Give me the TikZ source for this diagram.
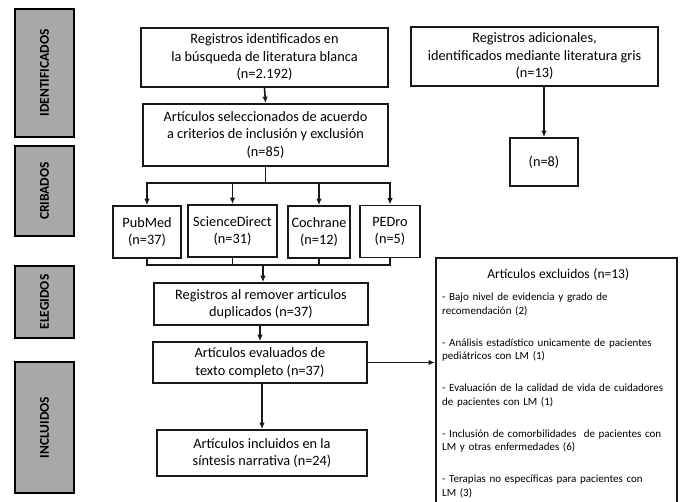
\documentclass[tikz,border=0pt]{standalone}
\usepackage{fontspec}
\setmainfont{Carlito}
\usetikzlibrary{arrows.meta,positioning}
\definecolor{phasegray}{RGB}{168,168,168}
\definecolor{boxline}{RGB}{25,25,25}

\begin{document}
\begin{tikzpicture}[x=1pt,y=-1pt,
  phase/.style={draw=black,fill=phasegray,line width=1.7pt,minimum height=59pt,
    rotate=90,inner sep=0pt,font=\bfseries\fontsize{13.5}{15}\selectfont},
  box/.style={draw=boxline,fill=white,line width=1.7pt,align=center,inner sep=2pt,
    font=\fontsize{14.3}{17.5}\selectfont},
  dbbox/.style={box,minimum height=52pt,inner sep=1pt},
  exctext/.style={anchor=north west,text width=232pt,align=left,inner sep=0pt,
    font=\fontsize{11}{13.5}\selectfont},
  flow/.style={-{Latex[length=6.5pt,width=5.5pt]},line width=1.6pt,boxline},
  link/.style={line width=1.6pt,boxline}]
  \useasboundingbox (0,0) rectangle (680,502);
  % Phases on the left
  \node[phase,minimum width=128pt] (idf) at (44.5,73) {IDENTIFICADOS};
  \node[phase,minimum width=90pt] (crib) at (44.5,191) {CRIBADOS};
  \node[phase,minimum width=72pt] (eleg) at (44.5,302) {ELEGIDOS};
  \node[phase,minimum width=131pt] (incl) at (44.5,427.5) {INCLUIDOS};
  %
  % Identification
  \node[box,minimum width=247pt,minimum height=59pt] (reg) at (264.5,57.5)
    {Registros identificados en\\la búsqueda de literatura blanca\\(n=2.192)};
  \node[box,minimum width=247pt,minimum height=59pt] (adic) at (534.5,56.5)
    {Registros adicionales,\\identificados mediante literatura gris\\(n=13)};
  \node[box,minimum width=68pt,minimum height=48pt] (gris) at (544,162) {(n=8)};
  \node[box,minimum width=245pt,minimum height=62pt] (sel) at (265.5,135)
    {Artículos seleccionados de acuerdo\\a criterios de inclusión y exclusión\\(n=85)};
  %
  % Databases
  \node[dbbox,minimum width=68pt] (pub) at (147,232) {PubMed\\(n=37)};
  \node[dbbox,minimum width=89pt] (sci) at (232.5,231) {ScienceDirect\\(n=31)};
  \node[dbbox,minimum width=62pt] (coch) at (319,232) {Cochrane\\(n=12)};
  \node[dbbox,minimum width=60pt] (ped) at (390,231.5) {PEDro\\(n=5)};
  %
  % Eligibility and inclusion
  \node[box,minimum width=214pt,minimum height=42pt] (dup) at (261,304)
    {Registros al remover artículos\\duplicados (n=37)};
  \node[box,minimum width=214pt,minimum height=41pt] (eval) at (260,362.5)
    {Artículos evaluados de\\texto completo (n=37)};
  \node[box,minimum width=210pt,minimum height=46pt] (inc) at (262,453)
    {Artículos incluidos en la\\síntesis narrativa (n=24)};
  %
  % Excluded articles
  \node[box,anchor=north west,minimum width=241pt,minimum height=262pt] (exc) at (435,257) {};
  \node[exctext] (exclist) at ([xshift=7pt,yshift=-11pt]exc.north west) {%
    {\centering\fontsize{13.5}{16}\selectfont Artículos excluidos (n=13)\par}
    \vspace{9pt}
    - Bajo nivel de evidencia y grado de\\recomendación (2)\par\vspace{18.5pt}
    - Análisis estadístico unicamente de pacientes\\pediátricos con LM (1)\par\vspace{18.5pt}
    - Evaluación de la calidad de vida de cuidadores\\de pacientes con LM (1)\par\vspace{18.5pt}
    - Inclusión de comorbilidades~ de pacientes con\\LM y otras enfermedades (6)\par\vspace{18.5pt}
    - Terapias no específicas para pacientes con\\LM (3)};
  %
  % Connectors
  \draw[flow] (reg.south) -- (sel.north);
  \draw[flow] (adic.south -| gris.north) -- (gris.north);
  \coordinate (split) at (265.5,183);
  \draw[link] (sel.south) -- (split);
  \foreach \db in {pub,sci,coch,ped} {
    \draw[flow] (split) -| (\db.north);
  }
  \coordinate (join) at (263,265);
  \foreach \db in {pub,sci,coch,ped} {
    \draw[link] (\db.south) |- (join);
  }
  \draw[flow] (join) -- (join |- dup.north);
  \draw[flow] (dup.south -| eval.north) -- (eval.north);
  \draw[flow] (eval.south -| inc.north) -- (inc.north);
  \draw[flow] (eval.east) -- (eval.east -| exc.west);
\end{tikzpicture}
\end{document}
